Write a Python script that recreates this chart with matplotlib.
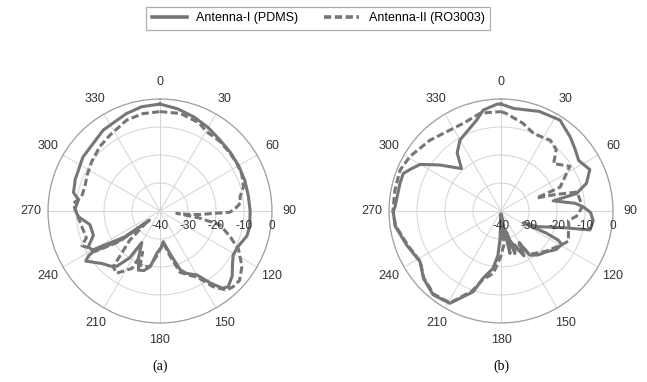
import numpy as np
import matplotlib
matplotlib.use('Agg')
import matplotlib.pyplot as plt
from matplotlib.lines import Line2D
from matplotlib.transforms import offset_copy

plt.rcParams['font.family'] = ['Liberation Sans', 'DejaVu Sans']

# (a) Antenna-I (PDMS): angle in degrees (clockwise from top), gain in dB
ang_a1 = [0, 10, 20, 30, 40, 50, 60, 70, 80, 90, 100, 106, 114, 121, 126, 132,
          138, 141, 145, 150, 157, 161, 167, 174, 178, 184, 190, 195, 200, 205,
          210, 213, 218, 222, 228, 236, 238, 238.6, 234, 229, 233, 240, 243.5,
          250, 259, 266, 271, 278, 282, 288, 290, 305, 325, 341, 350, 360]
db_a1 = [-1.8, -3, -4.3, -5.6, -6.8, -7.3, -7.6, -7.8, -8, -7.8, -7.5, -7.7,
         -9.3, -9.5, -8, -5.3, -3.6, -4.5, -8.6, -13.6, -15.8, -17.8, -24.5,
         -29, -27, -25, -19.8, -18, -17.5, -22, -27, -20, -15, -13.5, -12, -8,
         -10, -12, -22, -35, -25, -12, -11.4, -14.7, -14.5, -10.8, -9.6, -10.6,
         -8.4, -8, -7.7, -6.4, -4.7, -3.2, -2.2, -1.8]

# (a) Antenna-II (RO3003)
ang_a2 = [0, 12, 24, 30, 40, 50, 58, 66, 74, 80, 84, 87, 89, 91, 93, 95, 97,
          98, 100, 103, 110, 116, 124, 131, 136, 140, 145, 150, 156, 162, 168,
          174, 178, 184, 190, 196, 200, 203, 206, 211, 215, 220, 226, 230, 233,
          238, 242, 246, 250, 259, 268, 275, 280, 288, 296, 306, 317, 327, 340,
          350, 360]
db_a2 = [-4.5, -4.4, -5.6, -7.1, -7.2, -7.5, -7.7, -8, -9, -11, -11, -12.5,
         -13.8, -15, -22, -25.6, -30, -34, -26, -18, -13.4, -8.8, -4.7, -2.3,
         -2.4, -3.1, -7, -12.5, -15, -17, -24, -28.5, -27, -24, -20, -19.2,
         -19.4, -24, -17.2, -15, -12.9, -14, -25, -34, -22, -13, -11.7, -9.5,
         -12, -11.5, -10.3, -8.9, -11.5, -11.8, -11, -9.9, -8.5, -7.5, -5.4,
         -4.7, -4.5]

# (b) Antenna-I (PDMS)
ang_b1 = [0, 7, 21, 33, 43, 50, 57, 65, 72, 77, 79, 84, 87, 91, 96, 102, 105,
          113, 118, 116, 117, 119, 125, 132, 140, 147, 150, 153, 158, 162, 165,
          168, 171, 173, 176, 178, 180, 182, 184, 188, 195, 199, 209, 219, 229,
          238, 250, 262, 270, 272, 285, 291, 295, 300, 307, 317, 323, 330, 345,
          350, 358, 360]
db_b1 = [-1.8, -3.1, -1.9, -1.3, -3.8, -5.5, -6.9, -5, -7.9, -12.3, -21, -13.5,
         -10.6, -8, -6.9, -7.5, -17, -25.7, -31, -22, -17, -15.2, -16, -18.2,
         -19.5, -21.2, -26.6, -22, -27, -24, -32, -24.5, -34, -38, -30, -35,
         -39, -30, -24, -19.3, -15.1, -9.5, -2.3, -1.5, -3.3, -5.9, -4.2, -1.8,
         -1.5, -2.1, -2.6, -2.6, -4.5, -6.7, -12.7, -19.3, -14, -10.7, -6.4,
         -3.4, -1.8, -1.8]

# (b) Antenna-II (RO3003)
ang_b2 = [0, 3, 14, 23, 35, 42, 48, 57, 68, 70, 73, 76, 82, 88, 94, 98, 104,
          108, 114, 120, 132, 147, 150, 155, 160, 165, 170, 175, 180, 187, 195,
          200, 209, 219, 229, 238, 250, 262, 270, 281, 292, 301, 315, 337, 348,
          360]
db_b2 = [-4.5, -5.1, -7.7, -10, -9.2, -10.5, -14.7, -10.7, -17.2, -26.5, -20,
         -12.1, -11.5, -11.2, -13, -15.7, -15, -14.7, -13.6, -15.5, -18.5, -21.5,
         -27, -24, -27, -30, -35, -28, -24, -17.6, -14.5, -9.5, -2.5, -1.8,
         -3.5, -6, -4.5, -2, -1.4, -1.4, -1.1, -2.1, -4.2, -5.9, -4.3, -4.5]

theta_ticks = list(range(0, 360, 30))
r_ticks = [-40, -30, -20, -10, 0]

col = '#767676'
fig = plt.figure(figsize=(6.47, 3.82), dpi=100)


def polar_panel(rect, a1, d1, a2, d2, tag):
    ax = fig.add_axes(rect, projection='polar')
    ax.set_theta_zero_location('N')
    ax.set_theta_direction(-1)
    ax.plot(np.deg2rad(a1), d1, color=col, lw=2.2, solid_joinstyle='round')
    ax.plot(np.deg2rad(a2), d2, color=col, lw=2.2, ls=(0, (2.4, 1.1)))
    ax.set_ylim(-40, 0)
    ax.set_yticks(r_ticks)
    ax.set_yticklabels([])
    ax.set_xticks(np.deg2rad(theta_ticks))
    ax.set_xticklabels([str(t) for t in theta_ticks], fontsize=9, color='#333333')
    ax.tick_params(axis='x', pad=2)
    ax.grid(True, color='#d4d4d4', lw=0.7)
    ax.spines['polar'].set_color('#a0a0a0')
    ax.spines['polar'].set_linewidth(0.9)
    tr = offset_copy(ax.transData, fig=fig, x=0, y=-15, units='dots')
    for r in r_ticks:
        ax.text(np.pi / 2, r, str(r), transform=tr, ha='center', va='center',
                fontsize=8.5, color='#333333')
    fig.text(rect[0] + rect[2] / 2, 1 - 366 / 382, tag, ha='center', va='center',
             fontsize=10, family=['Liberation Serif', 'DejaVu Serif'])
    return ax


polar_panel([48 / 647, 59 / 382, 224 / 647, 224 / 382],
            ang_a1, db_a1, ang_a2, db_a2, '(a)')
polar_panel([389 / 647, 59 / 382, 224 / 647, 224 / 382],
            ang_b1, db_b1, ang_b2, db_b2, '(b)')

handles = [Line2D([], [], color=col, lw=2.6),
           Line2D([], [], color=col, lw=2.6, ls=(0, (2.0, 1.0)))]
leg = fig.legend(handles, ['Antenna-I (PDMS)', 'Antenna-II (RO3003)'],
                 loc='center', bbox_to_anchor=(318 / 647, 1 - 18.5 / 382),
                 ncol=2, fontsize=9, frameon=True, fancybox=False,
                 handlelength=2.8, columnspacing=2.0, borderpad=0.45)
leg.get_frame().set_edgecolor('#999999')
leg.get_frame().set_linewidth(0.9)

fig.savefig('out.png', dpi=100)
